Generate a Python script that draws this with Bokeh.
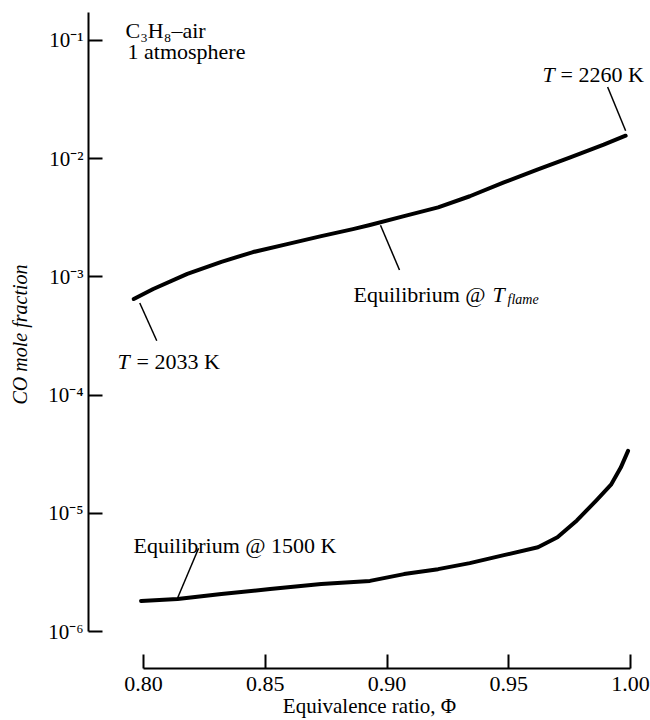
import math
import numpy as np
from bokeh.plotting import figure
from bokeh.models import (Range1d, FixedTicker, NumeralTickFormatter,
                          CustomJSTickFormatter, Label)
from bokeh.embed import file_html
from bokeh.resources import INLINE

# ---------------- data ----------------
phi_flame = [0.796, 0.804, 0.818, 0.832, 0.845, 0.859, 0.873, 0.886, 0.893,
             0.907, 0.921, 0.934, 0.948, 0.962, 0.975, 0.989, 0.998]
co_flame = [6.5e-4, 7.9e-4, 1.06e-3, 1.34e-3, 1.62e-3, 1.89e-3, 2.21e-3, 2.53e-3,
            2.74e-3, 3.26e-3, 3.87e-3, 4.80e-3, 6.28e-3, 8.10e-3, 1.02e-2,
            1.31e-2, 1.56e-2]

phi_1500 = [0.799, 0.814, 0.832, 0.852, 0.873, 0.893, 0.907, 0.921, 0.934,
            0.948, 0.962, 0.970, 0.978, 0.986, 0.992, 0.996, 0.999]
co_1500 = [1.82e-6, 1.89e-6, 2.08e-6, 2.30e-6, 2.53e-6, 2.69e-6, 3.07e-6,
           3.38e-6, 3.80e-6, 4.44e-6, 5.18e-6, 6.28e-6, 8.73e-6, 1.29e-5,
           1.75e-5, 2.44e-5, 3.38e-5]

x_ticks = [0.80, 0.85, 0.90, 0.95, 1.00]
y_ticks = [1e-6, 1e-5, 1e-4, 1e-3, 1e-2, 1e-1]

# ---------------- layout ----------------
W, H = 650, 720
FL, FR, FT, FB = 88, 650, 0, 672          # frame edges in px
PX_X0, PX_PER_X = 143.0, 2435.0           # phi = 0.80 at px 143
PY_M6, PX_PER_DEC = 635.0, 119.0          # 1e-6 at py 635


def dx(px):
    return 0.80 + (px - PX_X0) / PX_PER_X


def dy(py):
    return 10 ** (-6 + (PY_M6 - py) / PX_PER_DEC)


def tpx(x):
    return PX_X0 + (x - 0.80) * PX_PER_X


def tpy(y):
    return PY_M6 - (math.log10(y) + 6) * PX_PER_DEC


SERIF = "Liberation Serif"
FS = "22px"

p = figure(width=W, height=H, y_axis_type="log",
           x_range=Range1d(dx(FL), dx(FR)), y_range=Range1d(dy(FB), dy(FT)),
           output_backend="svg", toolbar_location=None,
           min_border_left=FL, min_border_right=W - FR,
           min_border_top=FT, min_border_bottom=H - FB)
p.outline_line_color = None
p.grid.visible = False
p.background_fill_color = "white"
p.border_fill_color = "white"

# x axis
xa = p.xaxis[0]
xa.ticker = FixedTicker(ticks=x_ticks)
xa.formatter = NumeralTickFormatter(format="0.00")
xa.bounds = (x_ticks[0], x_ticks[-1])
xa.major_tick_in = 14
xa.major_tick_out = 0
xa.minor_tick_line_color = None
xa.axis_line_width = 2
xa.major_tick_line_width = 2
xa.major_label_text_font = SERIF
xa.major_label_text_font_size = "22px"
xa.major_label_text_color = "black"
xa.major_label_standoff = 8
xa.axis_label = "Equivalence ratio, Φ"
xa.axis_label_text_font = SERIF
xa.axis_label_text_font_style = "normal"
xa.axis_label_text_font_size = "21px"
xa.axis_label_text_color = "black"
xa.axis_label_standoff = 0

# y axis
ya = p.yaxis[0]
ya.ticker = FixedTicker(ticks=y_ticks)
ya.formatter = CustomJSTickFormatter(code="""
const sup = {"-": "\u207b", "0": "\u2070", "1": "\u00b9", "2": "\u00b2", "3": "\u00b3",
             "4": "\u2074", "5": "\u2075", "6": "\u2076", "7": "\u2077", "8": "\u2078", "9": "\u2079"};
const e = Math.round(Math.log10(tick));
return "10" + String(e).split("").map(c => sup[c]).join("");
""")
ya.bounds = (y_ticks[0], dy(12))
ya.major_tick_in = 14
ya.major_tick_out = 0
ya.minor_tick_line_color = None
ya.axis_line_width = 2
ya.major_tick_line_width = 2
ya.major_label_text_font = SERIF
ya.major_label_text_font_size = "21px"
ya.major_label_text_color = "black"
ya.major_label_standoff = 5
ya.axis_label = "CO mole fraction"
ya.axis_label_text_font = SERIF
ya.axis_label_text_font_style = "italic"
ya.axis_label_text_font_size = "20px"
ya.axis_label_text_color = "black"
ya.axis_label_standoff = 14

# curves
p.line(phi_flame, co_flame, line_width=4, line_color="black",
       line_cap="round", line_join="round")
p.line(phi_1500, co_1500, line_width=4, line_color="black",
       line_cap="round", line_join="round")


# leader lines (anchored on curve points, other end offset in px)
def curve_at(xs, ys, x):
    return 10 ** np.interp(x, xs, np.log10(ys))


leaders = []
# T = 2260 K  -> last point of flame curve
ax, ay = tpx(phi_flame[-1]), tpy(co_flame[-1])
leaders.append((ax - 18, ay - 49, ax, ay - 5))
# T = 2033 K -> first point of flame curve
ax, ay = tpx(phi_flame[0]), tpy(co_flame[0])
leaders.append((ax + 6, ay + 4, ax + 23, ay + 42))
# Equilibrium @ T_flame
xq = dx(380)
ax, ay = tpx(xq), tpy(curve_at(phi_flame, co_flame, xq))
leaders.append((ax, ay + 3, ax + 19, ay + 48))
# Equilibrium @ 1500 K
ax, ay = tpx(phi_1500[1]), tpy(co_1500[1])
leaders.append((ax + 21, ay - 51, ax, ay - 1))

p.segment(x0=[dx(l[0]) for l in leaders], y0=[dy(l[1]) for l in leaders],
          x1=[dx(l[2]) for l in leaders], y1=[dy(l[3]) for l in leaders],
          line_color="black", line_width=1.5)


def lab(px, py, text, style="normal", size=FS, xo=0, yo=0):
    p.add_layout(Label(x=dx(px), y=dy(py), x_units="data", y_units="data",
                       text=text, text_font=SERIF, text_font_size=size,
                       text_font_style=style, text_color="black",
                       text_baseline="alphabetic", text_align="left",
                       x_offset=xo, y_offset=yo))


lab(125, 30, "C\u2083H\u2088\u2013air")
lab(127, 51, "1 atmosphere")

lab(542, 74, "T", style="italic")
lab(542, 74, "= 2260 K", xo=18)

lab(117, 363, "T", style="italic")
lab(117, 363, "= 2033 K", xo=19)

lab(353, 296, "Equilibrium @")
lab(353, 296, "T", style="italic", xo=139)
lab(353, 296, "flame", style="italic", size="14px", xo=154, yo=-5)

lab(133, 548, "Equilibrium @ 1500 K")

open("out.html", "w").write(file_html(p, INLINE))
